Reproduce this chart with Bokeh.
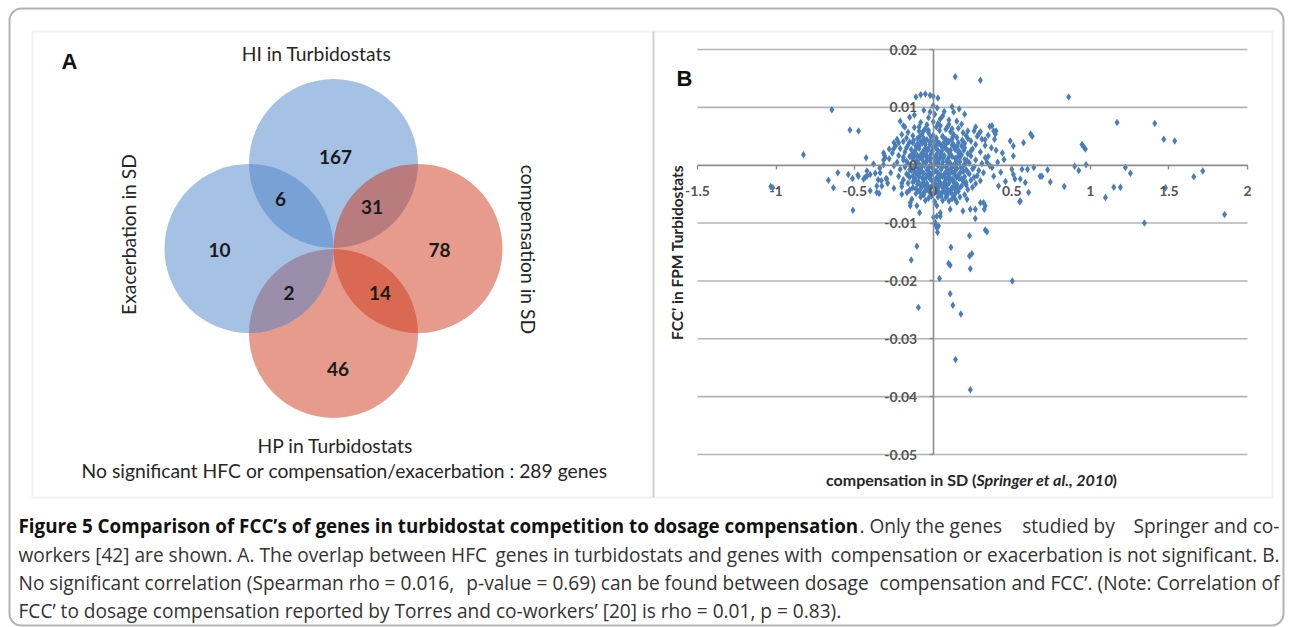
import math
from bokeh.plotting import figure
from bokeh.models import (Range1d, LinearAxis, FixedTicker, CustomJSTickFormatter,
                          Label, BoxAnnotation)
from bokeh.embed import file_html
from bokeh.resources import INLINE

# ---------------- data ----------------
# Venn diagram (panel A)
venn_sets = ["HP in Turbidostats", "HI in Turbidostats", "Exacerbation in SD", "compensation in SD"]
venn_kind = ["red", "blue", "blue", "red"]
region_names = ["HI only", "HI & exacerbation", "HI & compensation", "exacerbation only",
                "compensation only", "HP & exacerbation", "HP & compensation", "HP only"]
region_counts = [167, 6, 31, 10, 78, 2, 14, 46]
no_signal_genes = 289

# Scatter (panel B): x = compensation in SD, y = FCC' in FPM turbidostats
outer_pts = [[0.14, 0.0153], [0.30, 0.0147], [0.862, 0.0118],
             [-0.645, 0.0096], [-0.53, 0.0061], [-0.475, 0.0059], [-0.826, 0.0018],
             [1.17, 0.0074], [1.41, 0.0072], [1.467, 0.0045], [1.537, 0.0042],
             [0.947, 0.0036], [0.957, 0.0032], [0.968, 0.0028], [0.973, 0.0001],
             [0.90, -0.0002], [0.926, -0.0009],
             [0.728, -0.0008], [0.692, -0.0019], [0.745, -0.0029], [0.834, -0.0037],
             [1.223, -0.0004], [1.255, -0.0014], [1.149, -0.0038], [1.191, -0.0038],
             [1.096, -0.0056], [1.478, -0.0039],
             [1.658, -0.0020], [1.715, -0.0010], [1.344, -0.0100], [1.854, -0.0085],
             [-1.034, -0.0037], [-1.021, -0.0039]]
left_pts = [[-0.427, 0.0013], [-0.316, 0.0021], [-0.316, 0.0009], [-0.316, 0.0001],
            [-0.607, -0.0013], [-0.667, -0.0026], [-0.635, -0.0039], [-0.54, -0.0016],
            [-0.514, -0.0023], [-0.48, -0.0017],
            [-0.443, -0.0024], [-0.433, -0.0021], [-0.422, -0.0019], [-0.401, -0.0016],
            [-0.369, -0.0014], [-0.401, -0.0044], [-0.359, -0.0036], [-0.344, -0.0049],
            [-0.35, -0.0025], [-0.33, -0.0027], [-0.30, -0.0023], [-0.511, -0.0078],
            [-0.306, 0.0013], [-0.38, 0.0002], [-0.422, -0.0010], [-0.476, -0.0019],
            [-0.338, -0.0013], [-0.295, -0.0024], [-0.327, -0.0036], [-0.359, -0.0047],
            [-0.22, 0.0039], [-0.253, 0.0028], [-0.28, 0.0028], [-0.31, 0.0017],
            [-0.34, -0.0005], [-0.29, -0.0031], [-0.25, -0.0040], [-0.20, -0.0050],
            [-0.25, 0.0039]]
lower_pts = [[-0.104, -0.0140], [-0.14, -0.0164], [-0.094, -0.0246], [0.04, -0.0196],
             [0.113, -0.0142], [0.098, -0.0170], [0.108, -0.0173], [0.108, -0.0222],
             [0.125, -0.0242], [0.176, -0.0257], [0.142, -0.0336], [0.236, -0.0388],
             [0.231, -0.0122], [0.231, -0.0157], [0.246, -0.0153], [0.236, -0.0179],
             [0.503, -0.0200], [0.331, -0.0112], [0.342, -0.0115], [0.268, -0.0092],
             [0.027, -0.0116], [0.034, -0.0105], [0.013, -0.0102], [0.002, -0.0090],
             [0.045, -0.0088], [-0.087, -0.0082], [0.189, -0.0079], [0.325, -0.0076],
             [0.55, -0.0063], [-0.146, -0.0065], [-0.146, -0.0070],
             [0.32, -0.0065], [0.331, -0.0070], [0.215, -0.0059], [0.236, -0.0076],
             [0.108, -0.0076], [0.14, -0.0059], [-0.136, -0.0059], [-0.104, -0.0070],
             [-0.167, -0.0047], [0.023, -0.0070], [0.045, -0.0082], [0.023, -0.0088],
             [0.013, -0.0099], [0.023, -0.0108], [0.268, -0.0076], [0.30, -0.0065],
             [0.554, -0.0062], [0.607, -0.0047]]
upper_pts = [[-0.11, 0.0118], [-0.08, 0.0122], [-0.05, 0.0123], [-0.02, 0.0121],
             [0.0, 0.0119], [0.03, 0.0116],
             [-0.02, 0.0092], [0.025, 0.0099], [0.13, 0.0092], [0.165, 0.0097],
             [-0.21, 0.0076], [-0.15, 0.0083], [-0.08, 0.0074], [0.045, 0.0080],
             [0.09, 0.0066], [0.15, 0.0076], [0.22, 0.0059], [0.36, 0.0067],
             [0.40, 0.0059], [0.63, 0.0050], [-0.19, 0.0068], [-0.062, 0.0059],
             [-0.18, 0.0066], [-0.12, 0.0087], [-0.06, 0.0095], [0.0, 0.0103],
             [0.01, 0.0088], [0.06, 0.0085], [0.10, 0.0078], [0.18, 0.0071],
             [0.20, 0.0088], [0.12, 0.0101], [-0.03, 0.0082], [0.07, 0.0093],
             [0.27, 0.0066], [0.30, 0.0058], [0.35, 0.0052], [0.28, 0.0050], [0.33, 0.0044]]
right_pts = [[0.374, 0.0068], [0.385, 0.0059], [0.395, 0.0054], [0.39, 0.0045],
             [0.49, 0.0042], [0.51, 0.0033], [0.575, 0.0039], [0.62, 0.0054],
             [0.51, 0.0016], [0.45, 0.0010], [0.41, 0.0005], [0.50, -0.0007],
             [0.51, -0.0016], [0.52, -0.0024], [0.565, -0.0007], [0.60, -0.0007],
             [0.64, -0.0004], [0.554, -0.0024], [0.586, -0.0030], [0.68, -0.0019],
             [0.331, 0.0013], [0.342, 0.0005], [0.374, -0.0004], [0.385, -0.0019],
             [0.416, -0.0036], [0.44, 0.0021], [0.43, -0.0012], [0.46, -0.0028],
             [0.37, 0.0030], [0.40, 0.0026]]
core_pts = [[-0.12, 0.0065], [-0.05, 0.0063], [0.02, 0.0066], [0.08, 0.0062], [0.16, 0.0064],
            [-0.16, 0.0057], [-0.09, 0.0059], [-0.03, 0.0056], [0.04, 0.0060], [0.11, 0.0058],
            [0.19, 0.0056], [0.26, 0.0059],
            [-0.20, 0.0053], [-0.13, 0.0051], [-0.07, 0.0054], [0.00, 0.0052], [0.06, 0.0050],
            [0.13, 0.0053], [0.21, 0.0051], [0.29, 0.0054],
            [-0.23, 0.0045], [-0.17, 0.0047], [-0.10, 0.0046], [-0.04, 0.0044], [0.02, 0.0047],
            [0.08, 0.0045], [0.15, 0.0048], [0.22, 0.0046], [0.31, 0.0045],
            [-0.19, 0.0041], [-0.13, 0.0039], [-0.08, 0.0042], [-0.02, 0.0040], [0.04, 0.0038],
            [0.10, 0.0041], [0.16, 0.0039], [0.24, 0.0042],
            [-0.24, 0.0033], [-0.16, 0.0035], [-0.11, 0.0033], [-0.05, 0.0036], [0.01, 0.0034],
            [0.06, 0.0032], [0.12, 0.0035], [0.18, 0.0033], [0.27, 0.0036], [0.33, 0.0034],
            [-0.21, 0.0029], [-0.14, 0.0027], [-0.09, 0.0029], [-0.03, 0.0028], [0.03, 0.0026],
            [0.08, 0.0029], [0.14, 0.0027], [0.20, 0.0030], [0.25, 0.0028],
            [-0.26, 0.0021], [-0.18, 0.0023], [-0.12, 0.0022], [-0.06, 0.0020], [-0.01, 0.0023],
            [0.05, 0.0021], [0.10, 0.0024], [0.16, 0.0022], [0.22, 0.0020], [0.30, 0.0023],
            [-0.22, 0.0017], [-0.15, 0.0015], [-0.10, 0.0017], [-0.04, 0.0016], [0.02, 0.0014],
            [0.07, 0.0017], [0.12, 0.0015], [0.18, 0.0018], [0.24, 0.0016], [0.35, 0.0015],
            [-0.28, 0.0011], [-0.19, 0.0009], [-0.13, 0.0011], [-0.07, 0.0010], [-0.02, 0.0008],
            [0.04, 0.0011], [0.09, 0.0009], [0.15, 0.0012], [0.20, 0.0010], [0.27, 0.0009],
            [-0.23, 0.0005], [-0.16, 0.0003], [-0.11, 0.0005], [-0.05, 0.0004], [0.01, 0.0002],
            [0.06, 0.0005], [0.11, 0.0003], [0.17, 0.0006], [0.23, 0.0004], [0.31, 0.0003],
            [-0.25, -0.0001], [-0.18, -0.0003], [-0.12, -0.0001], [-0.08, -0.0002],
            [-0.03, -0.0004], [0.03, -0.0001], [0.08, -0.0003], [0.13, 0.0000], [0.19, -0.0002],
            [0.26, -0.0003], [0.36, -0.0001],
            [-0.21, -0.0007], [-0.14, -0.0009], [-0.09, -0.0007], [-0.04, -0.0008],
            [0.01, -0.0010], [0.05, -0.0007], [0.10, -0.0009], [0.15, -0.0006], [0.21, -0.0008],
            [0.29, -0.0009],
            [-0.27, -0.0013], [-0.17, -0.0015], [-0.11, -0.0013], [-0.06, -0.0014],
            [-0.01, -0.0016], [0.03, -0.0013], [0.07, -0.0015], [0.12, -0.0012], [0.17, -0.0014],
            [0.23, -0.0015], [0.32, -0.0013],
            [-0.22, -0.0019], [-0.15, -0.0021], [-0.09, -0.0019], [-0.03, -0.0020],
            [0.02, -0.0022], [0.06, -0.0019], [0.10, -0.0021], [0.14, -0.0018], [0.20, -0.0020],
            [0.26, -0.0021],
            [-0.19, -0.0025], [-0.12, -0.0027], [-0.06, -0.0025], [-0.01, -0.0026],
            [0.04, -0.0028], [0.08, -0.0025], [0.13, -0.0027], [0.18, -0.0024], [0.24, -0.0026],
            [0.30, -0.0027],
            [-0.16, -0.0031], [-0.10, -0.0033], [-0.04, -0.0031], [0.01, -0.0032],
            [0.05, -0.0034], [0.10, -0.0031], [0.15, -0.0033], [0.21, -0.0030], [0.27, -0.0032],
            [-0.20, -0.0037], [-0.13, -0.0039], [-0.07, -0.0037], [-0.02, -0.0038],
            [0.03, -0.0040], [0.07, -0.0037], [0.12, -0.0039], [0.18, -0.0036], [0.25, -0.0038],
            [-0.15, -0.0043], [-0.09, -0.0045], [-0.04, -0.0043], [0.02, -0.0044],
            [0.06, -0.0046], [0.11, -0.0043], [0.16, -0.0045], [0.22, -0.0042],
            [-0.11, -0.0049], [-0.06, -0.0051], [0.00, -0.0049], [0.05, -0.0050],
            [0.09, -0.0052], [0.14, -0.0049], [0.20, -0.0051],
            [-0.08, -0.0055], [-0.03, -0.0057], [0.03, -0.0055], [0.08, -0.0056],
            [0.12, -0.0058], [0.17, -0.0055],
            [-0.05, -0.0061], [0.01, -0.0063], [0.06, -0.0061], [0.10, -0.0062], [0.15, -0.0064]]
core_fill_pts = [[-0.10, 0.0037], [-0.07, 0.0038], [-0.02, 0.0036], [0.03, 0.0037], [0.085, 0.0038],
                 [0.13, 0.0036], [-0.115, 0.0025], [-0.06, 0.0026], [-0.005, 0.0024], [0.055, 0.0025],
                 [0.11, 0.0026], [0.165, 0.0024], [-0.085, 0.0013], [-0.045, 0.0014], [0.005, 0.0012],
                 [0.045, 0.0013], [0.10, 0.0014], [0.14, 0.0012], [-0.14, 0.0001], [-0.09, 0.0002],
                 [-0.055, 0.0000], [-0.01, 0.0001], [0.035, 0.0002], [0.09, 0.0000], [0.15, 0.0001],
                 [-0.12, -0.0011], [-0.075, -0.0010], [-0.025, -0.0012], [0.02, -0.0011],
                 [0.085, -0.0010], [0.135, -0.0012], [0.19, -0.0011], [-0.115, -0.0023],
                 [-0.07, -0.0022], [-0.02, -0.0024], [0.035, -0.0023], [0.08, -0.0022],
                 [0.12, -0.0024], [0.165, -0.0023], [-0.08, -0.0035], [-0.055, -0.0034],
                 [-0.005, -0.0036], [0.03, -0.0035], [0.085, -0.0034], [0.135, -0.0036],
                 [-0.06, -0.0047], [-0.02, -0.0048], [0.025, -0.0046], [0.075, -0.0047],
                 [0.115, -0.0048]]
core_extra_pts = [[-0.17, 0.0030], [-0.135, 0.0019], [-0.105, 0.0031], [-0.075, 0.0020],
                  [-0.045, 0.0030], [-0.015, 0.0019], [0.015, 0.0030], [0.045, 0.0019],
                  [0.075, 0.0031], [0.105, 0.0019], [0.135, 0.0030], [0.165, 0.0018],
                  [0.195, 0.0026], [-0.17, 0.0007], [-0.14, -0.0005], [-0.105, 0.0008],
                  [-0.075, -0.0004], [-0.04, 0.0007], [-0.005, -0.0005], [0.025, 0.0007],
                  [0.055, -0.0004], [0.085, 0.0007], [0.115, -0.0005], [0.145, 0.0007],
                  [0.175, -0.0004], [0.215, 0.0008], [-0.16, -0.0017], [-0.13, -0.0029],
                  [-0.10, -0.0016], [-0.065, -0.0030], [-0.035, -0.0017], [0.005, -0.0029],
                  [0.04, -0.0017], [0.07, -0.0030], [0.10, -0.0016], [0.13, -0.0030],
                  [0.16, -0.0017], [0.195, -0.0029], [-0.125, 0.0043], [-0.085, 0.0050],
                  [-0.055, 0.0041], [-0.015, 0.0049], [0.025, 0.0041], [0.06, 0.0049],
                  [0.095, 0.0041], [0.125, 0.0049], [0.185, 0.0043], [-0.11, -0.0041],
                  [-0.075, -0.0052], [-0.045, -0.0041], [-0.01, -0.0053], [0.02, -0.0040],
                  [0.05, -0.0053], [0.09, -0.0041], [0.13, -0.0053], [0.165, -0.0040],
                  [-0.03, 0.0060], [0.045, 0.0068], [0.12, 0.0063], [-0.09, 0.0066],
                  [0.0, 0.0075], [0.03, 0.0072], [-0.04, 0.0070], [0.10, 0.0071]]
core_dense_pts = [[-0.09, 0.0033], [-0.04, 0.0025], [0.0, 0.0031], [0.05, 0.0034], [0.09, 0.0026],
                  [0.15, 0.0031], [-0.12, 0.0016], [-0.065, 0.0017], [-0.02, 0.0012], [0.02, 0.0018],
                  [0.065, 0.0013], [0.11, 0.0019], [0.17, 0.0013], [-0.10, -0.0004], [-0.06, 0.0004],
                  [-0.02, -0.0002], [0.02, 0.0004], [0.06, -0.0001], [0.10, 0.0005], [0.14, -0.0003],
                  [0.20, 0.0002], [-0.13, -0.0019], [-0.085, -0.0014], [-0.045, -0.0021],
                  [0.0, -0.0013], [0.05, -0.0018], [0.09, -0.0013], [0.15, -0.0021], [0.22, -0.0012],
                  [-0.095, -0.0028], [-0.035, -0.0036], [0.015, -0.0027], [0.06, -0.0038],
                  [0.105, -0.0026], [0.15, -0.0038], [0.21, -0.0034], [-0.085, -0.0043],
                  [-0.025, -0.0043], [0.04, -0.0048], [0.10, -0.0046], [0.14, -0.0043],
                  [-0.15, 0.0040], [-0.06, 0.0046], [0.0, 0.0042], [0.07, 0.0040], [0.12, 0.0045],
                  [0.20, 0.0038], [-0.15, -0.0008], [-0.19, 0.0014], [-0.20, -0.0031],
                  [0.25, -0.0006], [0.24, 0.0025], [0.28, -0.0018]]

x_ticks = [-1.5, -1, -0.5, 0, 0.5, 1, 1.5, 2]
y_ticks = [0.02, 0.01, 0, -0.01, -0.02, -0.03, -0.04, -0.05]

all_pts = (outer_pts + left_pts + lower_pts + upper_pts + right_pts + core_pts
           + core_fill_pts + core_extra_pts + core_dense_pts)
comp_sd = [pt[0] for pt in all_pts]
fcc_turb = [pt[1] for pt in all_pts]

caption_bold = "Figure 5 Comparison of FCC\u2019s of genes in turbidostat competition to dosage compensation"
caption_line1 = [". Only the genes", "studied by", "Springer and co-"]
caption_line2 = ["workers [42] are shown. A. The overlap between HFC",
                 "genes in turbidostats and genes with",
                 "compensation or exacerbation is not significant. B."]
caption_line3 = ["No significant correlation (Spearman rho = 0.016,",
                 "p-value = 0.69) can be found between dosage",
                 "compensation and FCC\u2019. (Note: Correlation of"]
caption_line4 = "FCC\u2019 to dosage compensation reported by Torres and co-workers\u2019 [20] is rho = 0.01, p = 0.83)."

# ---------------- layout (page pixel coordinates) ----------------
W, H = 1290, 627
p = figure(width=W, height=H, x_range=Range1d(0, W), y_range=Range1d(H, 0),
           output_backend="svg", toolbar_location=None, x_axis_type=None, y_axis_type=None,
           min_border=0, outline_line_color=None, title=None)
p.background_fill_color = "white"
p.border_fill_color = "white"

# scatter ranges anchored to pixel positions of the plot area
SXP = (697.0, 1247.0)   # pixel x of -1.5 and 2
SYP = (49.0, 454.0)     # pixel y of 0.02 and -0.05
def _lin(p0, v0, p1, v1, px):
    return v0 + (px - p0) * (v1 - v0) / (p1 - p0)
p.extra_x_ranges = {"sx": Range1d(_lin(SXP[0], x_ticks[0], SXP[1], x_ticks[-1], 0),
                                  _lin(SXP[0], x_ticks[0], SXP[1], x_ticks[-1], W))}
p.extra_y_ranges = {"sy": Range1d(_lin(SYP[0], y_ticks[0], SYP[1], y_ticks[-1], H),
                                  _lin(SYP[0], y_ticks[0], SYP[1], y_ticks[-1], 0))}

# frames
p.add_layout(BoxAnnotation(left=9, right=1283, top=8, bottom=625, fill_color=None,
                           line_color="black", line_width=2, border_radius=12))
p.add_layout(BoxAnnotation(left=32, right=1272, top=31, bottom=497, fill_color=None,
                           line_color="#d2d2d2", line_width=2))
p.segment(x0=[653], y0=[31], x1=[653], y1=[497], line_color="#d2d2d2", line_width=2)

def lab(x, y, text, size, style="normal", align="center", baseline="middle", angle=0.0,
        color="#262626", font="Lato"):
    p.add_layout(Label(x=x, y=y, text=text, text_font=font, text_font_size=f"{size}px",
                       text_font_style=style, text_align=align, text_baseline=baseline,
                       angle=angle, text_color=color))

# ---------------- panel A: Venn ----------------
R = 84.5
centers = {"HI in Turbidostats": (333, 163), "Exacerbation in SD": (248.5, 248),
           "compensation in SD": (417.5, 248), "HP in Turbidostats": (333, 333)}
base = {"blue": "#4C84C8", "red": "#CD3719"}
for name, kind in zip(venn_sets, venn_kind):
    cx, cy = centers[name]
    p.circle(x=[cx], y=[cy], radius=R, fill_color=base[kind], fill_alpha=0.5, line_color=None)

region_pos = [(335, 156), (280, 198), (371.5, 206.5), (219, 249), (439, 249),
              (288.5, 292.5), (379.5, 292.5), (337.5, 368)]
p.text(x=[q[0] for q in region_pos], y=[q[1] for q in region_pos],
       text=[str(c) for c in region_counts], text_font={"value": "Lato"},
       text_font_size="19px", text_font_style="bold", text_align="center",
       text_baseline="middle", text_color="#1a1a1a")

lab(69, 61, "A", 22, "bold", font="Liberation Sans", color="#111111")
lab(316, 53, venn_sets[1], 19.3)
lab(335, 445, venn_sets[0], 19.3)
lab(128, 234, venn_sets[2], 19.3, angle=math.pi / 2)
lab(528, 249, venn_sets[3], 19.3, angle=-math.pi / 2)
lab(344, 470, f"No significant HFC or compensation/exacerbation : {no_signal_genes} genes", 19.3)

# ---------------- panel B: scatter ----------------
grid_col = "#b4b4b4"
p.segment(x0=[x_ticks[0]] * len(y_ticks), x1=[x_ticks[-1]] * len(y_ticks), y0=y_ticks, y1=y_ticks,
          x_range_name="sx", y_range_name="sy", line_color=grid_col, line_width=1.6)

fmt = CustomJSTickFormatter(code="return String(tick);")
xax = LinearAxis(x_range_name="sx", y_range_name="sy", fixed_location=0,
                 bounds=(x_ticks[0], x_ticks[-1]), ticker=FixedTicker(ticks=x_ticks), formatter=fmt)
yax = LinearAxis(x_range_name="sx", y_range_name="sy", fixed_location=0,
                 bounds=(y_ticks[-1], y_ticks[0]), ticker=FixedTicker(ticks=y_ticks), formatter=fmt)
for ax in (xax, yax):
    ax.axis_line_color = "#8c8c8c"
    ax.axis_line_width = 1.6
    ax.major_tick_line_color = "#8c8c8c"
    ax.major_tick_line_width = 1.4
    ax.major_tick_in = 0
    ax.major_tick_out = 4
    ax.minor_tick_line_color = None
    ax.major_label_text_font = "Lato"
    ax.major_label_text_font_size = "14px"
    ax.major_label_text_font_style = "bold"
    ax.major_label_text_color = "#555555"
xax.major_label_standoff = 17
yax.major_label_standoff = 12
p.add_layout(xax, "below")
p.add_layout(yax, "left")

p.scatter(x=comp_sd, y=fcc_turb, x_range_name="sx", y_range_name="sy", marker="diamond",
          size=7.5, fill_color="#4A7EBB", line_color=None)

lab(684, 78, "B", 22, "bold", font="Liberation Sans", color="#111111")
lab(676, 252, "FCC' in FPM Turbidostats", 15.5, "bold", angle=math.pi / 2)
lab(976, 479, "compensation in SD (", 16, "bold", align="right")
lab(976, 479, "Springer et al., 2010", 16, "bold italic", align="left")
lab(1112, 479, ")", 16, "bold", align="left")

# ---------------- caption ----------------
cap_y = [525, 554, 582, 610]
cap_font = "Open Sans"
cap_size = 19.1
cap_col = "#333333"
L, Rr = 18, 1279
lab(L, cap_y[0], caption_bold, 18.8, "bold", align="left", font=cap_font, color="#111111")
lab(859, cap_y[0], caption_line1[0], cap_size, align="left", font=cap_font, color=cap_col)
lab(1068, cap_y[0], caption_line1[1], cap_size, align="center", font=cap_font, color=cap_col)
lab(Rr, cap_y[0], caption_line1[2], cap_size, align="right", font=cap_font, color=cap_col)
for yy, parts, mid in ((cap_y[1], caption_line2, 658.5), (cap_y[2], caption_line3, 667)):
    lab(L, yy, parts[0], cap_size, align="left", font=cap_font, color=cap_col)
    lab(mid, yy, parts[1], cap_size, align="center", font=cap_font, color=cap_col)
    lab(Rr, yy, parts[2], cap_size, align="right", font=cap_font, color=cap_col)
lab(L, cap_y[3], caption_line4, cap_size, align="left", font=cap_font, color=cap_col)

open("out.html", "w").write(file_html(p, INLINE))
